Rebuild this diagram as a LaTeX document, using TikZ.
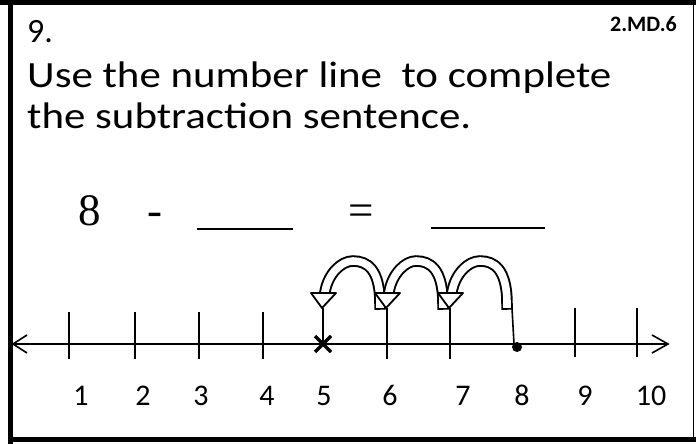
\documentclass[tikz,border=0pt]{standalone}
\usepackage{fontspec}
\usetikzlibrary{calc}
\setmainfont{Carlito}
\newfontfamily\widefont[FakeStretch=1.16]{Carlito}
\newfontfamily\serifnum{Liberation Serif}
\begin{document}
\begin{tikzpicture}[x=1pt,y=-1pt,
  frame/.style={line width=5pt},
  tickline/.style={line width=1.6pt},
  lbl/.style={font=\fontsize{30}{30}\selectfont, anchor=base, inner sep=0pt},
  blank/.style={line width=2.5pt},
  hopouter/.style={line width=11.5pt, line cap=rect},
  hopinner/.style={line width=7.6pt, white, line cap=rect},
  hophead/.style={fill=white, draw=black, line width=1.8pt, line join=round},
]
\useasboundingbox (0,0) rectangle (696,444);
% frame
\draw[frame] (0,3) -- (696,3);
\draw[frame] (10.5,0) -- (10.5,444);
\draw[frame] (8,439) -- (696,439);
\draw[line width=1pt] (693,3) -- (693,439);
% texts
\node[anchor=base west, inner sep=0pt, font=\fontsize{34}{34}\selectfont] (num) at (27,43) {9.};
\node[anchor=base east, inner sep=0pt, font=\fontsize{22}{22}\selectfont\bfseries] (std) at (677,32) {2.MD.6};
\node[anchor=base west, inner sep=0pt, font=\widefont\fontsize{37}{37}\selectfont] (q1) at (27,88) {Use the number line \ to complete};
\node[anchor=base west, inner sep=0pt, font=\widefont\fontsize{37}{37}\selectfont] (q2) at (27,128) {the subtraction sentence.};
% sentence
\node[anchor=base, inner sep=0pt, font=\serifnum\fontsize{45}{45}\selectfont] (eight) at (90,225) {8};
\node[anchor=base, inner sep=0pt, font=\serifnum\fontsize{45}{45}\selectfont] (minus) at (155,225) {-};
\node[anchor=base, inner sep=0pt, font=\serifnum\fontsize{45}{45}\selectfont] (eq) at (361,225) {=};
\coordinate (b1s) at (197,229); \coordinate (b1e) at (293,229);
\coordinate (b2s) at (431,228); \coordinate (b2e) at (545,228);
\draw[blank] (b1s) -- (b1e);
\draw[blank] (b2s) -- (b2e);
% number line
\coordinate (L) at (13,344);
\coordinate (R) at (668,344);
\draw[tickline] (L) -- (R);
\draw[tickline] ($(L)+(14,-9)$) -- (L) -- ($(L)+(14,9)$);
\draw[tickline] ($(R)+(-16,-9)$) -- (R) -- ($(R)+(-16,9)$);
\foreach \i/\x/\lx in {1/69/81,2/135/143,3/199/201,4/263/267,5/323/324,6/387/390,7/450/463,8/514/522,9/575/585,10/637/651}{
  \coordinate (t\i) at (\x,344);
  \node[lbl] (l\i) at (\lx,405) {\i};
}
\foreach \i in {1,2,3,4}{ \draw[tickline] ($(t\i)+(0,-32)$) -- ($(t\i)+(0,15)$); }
\foreach \i in {9,10}{ \draw[tickline] ($(t\i)+(0,-36)$) -- ($(t\i)+(0,13)$); }
\foreach \i in {6,7}{ \draw[tickline] ($(t\i)+(0,-36)$) -- ($(t\i)+(0,15)$); }
\draw[tickline] ($(t8)+(-2,-36)$) -- (t8);
\draw[tickline] ($(t5)+(0,-36)$) -- (t5);
% X at 5 and dot at 8
\draw[line width=3.2pt] ($(t5)+(-8,-8)$) -- ($(t5)+(8,8)$);
\draw[line width=3.2pt] ($(t5)+(8,-8)$) -- ($(t5)+(-8,8)$);
\fill ($(t8)+(3,3)$) circle (5);
% hops (drawn from left to right so later heads cover earlier tails)
\foreach \a/\b in {6/5,7/6,8/7}{
  \draw[hopouter] ($(t\a)+(-7,-40)$) .. controls ($(t\a)+(-7,-75)$) and ($(t\a)+(-20,-83)$) .. ($(t\a)+(-34,-83)$)
     .. controls ($(t\b)+(18,-83)$) and ($(t\b)+(5,-70)$) .. ($(t\b)+(2,-52)$);
  \draw[hopinner] ($(t\a)+(-7,-40)$) .. controls ($(t\a)+(-7,-75)$) and ($(t\a)+(-20,-83)$) .. ($(t\a)+(-34,-83)$)
     .. controls ($(t\b)+(18,-83)$) and ($(t\b)+(5,-70)$) .. ($(t\b)+(2,-52)$);
  \draw[hophead] ($(t\b)+(-12,-51)$) -- ($(t\b)+(13,-51)$) -- ($(t\b)+(-1,-36)$) -- cycle;
}
\end{tikzpicture}
\end{document}
